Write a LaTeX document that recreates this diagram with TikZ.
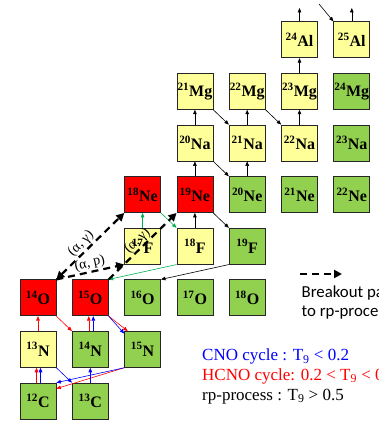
\documentclass[tikz,border=0pt]{standalone}
\usepackage{fontspec}
\setmainfont{Liberation Serif}
\newfontfamily\legendsans{Carlito}
\usetikzlibrary{arrows.meta}
\definecolor{nucred}{RGB}{255,0,0}
\definecolor{nucyel}{RGB}{255,255,153}
\definecolor{nucgrn}{RGB}{146,208,80}
\definecolor{flowgrn}{RGB}{0,176,80}
\newcommand\iso[2]{\textsuperscript{#1}#2}
\begin{document}
\begin{tikzpicture}[x=1pt,y=-1pt,
 nuc/.style={draw=black!85, line width=0.7pt, minimum size=36pt, inner sep=0pt, font=\bfseries\fontsize{16}{16}\selectfont},
 rd/.style={nuc, fill=nucred}, yl/.style={nuc, fill=nucyel}, gr/.style={nuc, fill=nucgrn},
 flow/.style={-{Triangle[length=4.5pt,width=3.6pt]}, line width=0.6pt},
 blk/.style={flow, black}, grn/.style={flow, flowgrn}, hc/.style={flow, red}, cno/.style={flow, blue},
 brk/.style={line width=2.2pt, dash pattern=on 7pt off 5pt, -{Triangle[length=8pt,width=8pt]}},
 rlab/.style={font=\fontsize{14}{14}\selectfont, sloped, above, inner sep=1pt},
 legtext/.style={anchor=base west, inner sep=0pt, font=\fontsize{17}{17}\selectfont}
]
\useasboundingbox (0,0) rectangle (385,422);
\clip (0,0) rectangle (378,422);

% nuclei
\node[gr] (C12) at (38,401) {\iso{12}{C}};
\node[gr] (C13) at (90.3,401) {\iso{13}{C}};
\node[yl] (N13) at (38,349.4) {\iso{13}{N}};
\node[gr] (N14) at (90.3,349.4) {\iso{14}{N}};
\node[gr] (N15) at (142.6,349.4) {\iso{15}{N}};
\node[rd] (O14) at (38,297.8) {\iso{14}{O}};
\node[rd] (O15) at (90.3,297.8) {\iso{15}{O}};
\node[gr] (O16) at (142.6,297.8) {\iso{16}{O}};
\node[gr] (O17) at (194.9,297.8) {\iso{17}{O}};
\node[gr] (O18) at (247.2,297.8) {\iso{18}{O}};
\node[yl] (F17) at (142.6,246.2) {\iso{17}{F}};
\node[yl] (F18) at (194.9,246.2) {\iso{18}{F}};
\node[gr] (F19) at (247.2,246.2) {\iso{19}{F}};
\node[rd] (Ne18) at (142.6,194.6) {\iso{18}{Ne}};
\node[rd] (Ne19) at (194.9,194.6) {\iso{19}{Ne}};
\node[gr] (Ne20) at (247.2,194.6) {\iso{20}{Ne}};
\node[gr] (Ne21) at (299.5,194.6) {\iso{21}{Ne}};
\node[gr] (Ne22) at (351.8,194.6) {\iso{22}{Ne}};
\node[yl] (Na20) at (194.9,143) {\iso{20}{Na}};
\node[yl] (Na21) at (247.2,143) {\iso{21}{Na}};
\node[yl] (Na22) at (299.5,143) {\iso{22}{Na}};
\node[gr] (Na23) at (351.8,143) {\iso{23}{Na}};
\node[yl] (Mg21) at (194.9,91.4) {\iso{21}{Mg}};
\node[yl] (Mg22) at (247.2,91.4) {\iso{22}{Mg}};
\node[yl] (Mg23) at (299.5,91.4) {\iso{23}{Mg}};
\node[gr] (Mg24) at (351.8,91.4) {\iso{24}{Mg}};
\node[yl] (Al24) at (299.5,39.8) {\iso{24}{Al}};
\node[yl] (Al25) at (351.8,39.8) {\iso{25}{Al}};

% rp-process flow (black)
\coordinate (al24out) at (299.5,8);
\coordinate (al25out) at (351.8,8);
\coordinate (si25in) at (319,4);
\draw[blk] (F18) -- (Ne19);
\draw[blk] (Ne19) -- (Na20);
\draw[blk] (Na20) -- (Mg21);
\draw[blk] (Ne20) -- (Na21);
\draw[blk] (Na21) -- (Mg22);
\draw[blk] (Na22) -- (Mg23);
\draw[blk] (Mg23) -- (Al24);
\draw[blk] (Al24) -- (al24out);
\draw[blk] (Al25) -- (al25out);
\draw[blk] (si25in) -- (Al25.north west);
\draw[blk] (Ne19.south east) -- (F19.north west);
\draw[blk] (Na20.south east) -- (Ne20.north west);
\draw[blk] (Mg21.south east) -- (Na21.north west);
\draw[blk] (Mg22.south east) -- (Na22.north west);
\draw[blk] (F19.south west) -- (O16.north east);

% green flow
\draw[grn] (F17) -- (Ne18);
\draw[grn] (Ne18.south east) -- (F18.north west);
\draw[grn] (F18.south west) -- (O15.north east);

% HCNO (red)
\draw[hc] ([xshift=-1.5pt]C12.north) -- ([xshift=-1.5pt]N13.south);
\draw[hc] (N13) -- (O14);
\draw[hc] (O14.south east) -- (N14.north west);
\draw[hc] ([xshift=-1.5pt]N14.north) -- ([xshift=-1.5pt]O15.south);
\draw[hc] (O15.south east) -- ([xshift=3.5pt]N15.north west);
\draw[hc] (N15.south west) -- ([yshift=-6pt]C12.north east);

% CNO (blue)
\draw[cno] ([xshift=2.5pt]C12.north) -- ([xshift=2.5pt]N13.south);
\draw[cno] (N13.south east) -- (C13.north west);
\draw[cno] (C13) -- (N14);
\draw[cno] ([xshift=3pt]N14.north) -- ([xshift=3pt]O15.south);
\draw[cno] (O15.south east) -- ([yshift=-2.5pt]N15.north west);
\draw[cno] (N15.south west) -- (C12.north east);

% breakout
\draw[brk, {Triangle[length=8pt,width=8pt]}-{Triangle[length=8pt,width=8pt]}] (O14.north east) -- node[rlab, pos=0.45] {(α, γ)} (Ne18.south west);
\draw[brk] (O14.north east) -- node[rlab, pos=0.52] {(α, p)} (F17.south west);
\draw[brk] (O15.north east) -- node[rlab, pos=0.5, inner sep=0pt] {(α, γ)} (Ne19.south west);

% legend
\coordinate (lgA) at (300,274);
\coordinate (lgB) at (342,274);
\draw[brk] (lgA) -- (lgB);
\node[anchor=base west, inner sep=0pt, font=\legendsans\fontsize{16.8}{16.8}\selectfont] (bk1) at (301.5,297) {Breakout path};
\node[anchor=base west, inner sep=0pt, font=\legendsans\fontsize{16.8}{16.8}\selectfont] (bk2) at (301.5,316) {to rp-process};
\node[legtext, text=blue] (lcno) at (202,360.5) {CNO cycle : T\textsubscript{9} < 0.2};
\node[legtext, text=red] (lhcno) at (202,380) {HCNO cycle: 0.2 < T\textsubscript{9} < 0.5};
\node[legtext, text=black] (lrp) at (202,400) {rp-process : T\textsubscript{9} > 0.5};
\end{tikzpicture}
\end{document}
